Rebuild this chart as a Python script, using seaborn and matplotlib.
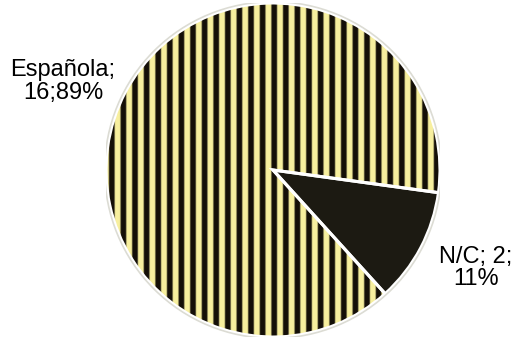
import numpy as np
import matplotlib
matplotlib.use("Agg")
import matplotlib.pyplot as plt
import seaborn as sns

# ---- data ----
categories = ["Española", "N/C"]
counts = [16, 2]
percents = [89, 11]
label_texts = ["Española;\n16;89%", "N/C; 2;\n11%"]

sns.set_theme(style="white")
plt.rcParams['font.family'] = ['Liberation Sans', 'DejaVu Sans']

fig = plt.figure(figsize=(5.16, 3.42), dpi=100)
fig.patch.set_facecolor("white")
ax = fig.add_axes([106 / 516, 5 / 342, 334 / 516, 334 / 342])
ax.set_xlim(-1, 1)
ax.set_ylim(-1, 1)
ax.set_aspect("equal")
ax.axis("off")

yellow = np.array([0.97, 0.94, 0.62])
dark = np.array([0.08, 0.06, 0.03])
nc_color = "#1c1a12"

wedges, _ = ax.pie(counts, startangle=-7.8, counterclock=True,
                   colors=[tuple(yellow), nc_color], radius=1.0,
                   center=(0, 0), frame=False,
                   wedgeprops=dict(linewidth=0))

# striped fill for the first wedge
W = 2400
xs = np.linspace(-1, 1, W)
period = 0.0695
x0 = 0.042
t = ((xs - x0) / period) % 1.0
d = np.minimum(t, 1 - t)
s = np.clip((0.32 - d) / 0.13, 0, 1)
s = s * s * (3 - 2 * s)
row = dark[None, :] + s[:, None] * (yellow - dark)[None, :]
img = np.repeat(row[None, :, :], 4, axis=0)
im = ax.imshow(img, extent=[-1, 1, -1, 1], aspect="auto", zorder=2,
               interpolation="bilinear")
im.set_clip_path(wedges[0])

# edges on top
ax.pie(counts, startangle=-7.8, counterclock=True, radius=1.0,
       colors=["none", "none"], frame=False,
       wedgeprops=dict(linewidth=2.2, edgecolor="white", zorder=3))
outline = plt.Circle((0, 0), 1.008, fill=False, edgecolor="#dcdcd4",
                     linewidth=1.2, zorder=4)
ax.add_patch(outline)
ax.set_xlim(-1, 1)
ax.set_ylim(-1, 1)

label_pos = [(-1.257, 0.53), (1.213, -0.587)]
for txt, (lx, ly) in zip(label_texts, label_pos):
    ax.text(lx, ly, txt, ha="center", va="center", fontsize=17,
            color="black", linespacing=1.05, clip_on=False, zorder=5)

fig.savefig("out.png", dpi=100, facecolor="white")
